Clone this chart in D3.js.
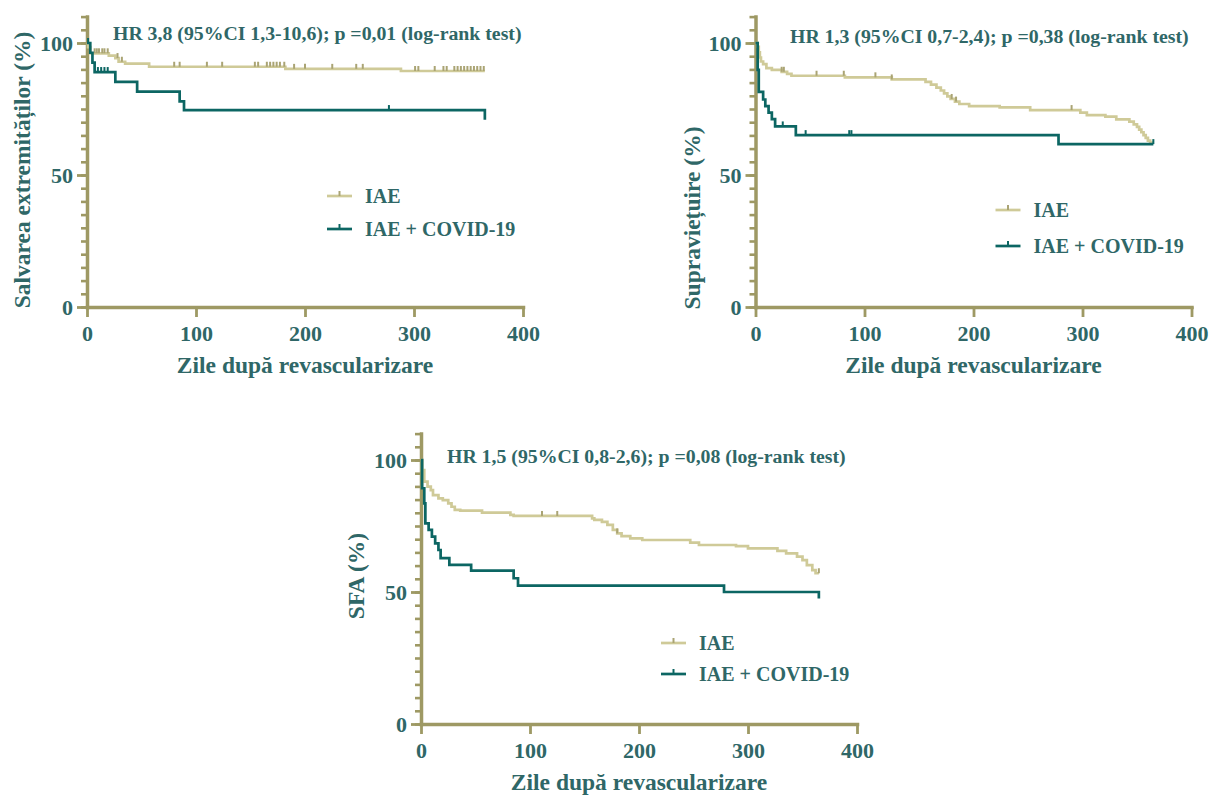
<!DOCTYPE html>
<html>
<head>
<meta charset="utf-8">
<script src="https://cdn.jsdelivr.net/npm/d3@7"></script>
<style>
  body { margin: 0; background: #fff; }
  svg { display: block; }
  text { font-family: "Liberation Serif", "Times New Roman", serif; font-weight: bold; fill: #2f6767; }
</style>
</head>
<body>
<svg id="chart" width="1210" height="796"></svg>
<script>
// ---------- data ----------
const xTickValues = [0, 100, 200, 300, 400];
const yMajorTicks = [0, 50, 100];
const seriesNames = ["IAE", "IAE + COVID-19"];

// Limb salvage
const limbIaeDays  = [0, 1, 3, 20, 26, 29, 35, 57, 182, 288, 365];
const limbIaePct   = [100, 98.4, 96.1, 95.2, 94.3, 92.9, 92.2, 91.0, 90.2, 89.4, 89.4];
const limbIaeCens  = [7, 9, 11, 14, 16, 19, 28, 32, 80, 85, 110, 124, 154, 157, 165, 168, 171, 174, 177, 181,
                      190, 200, 225, 247, 253, 301, 304, 319, 327, 330, 337, 340, 343, 346, 349, 352, 355, 358, 361, 364];
const limbCovDays  = [0, 3, 5, 7, 26, 46, 85, 89, 365];
const limbCovPct   = [100, 96.3, 92.6, 89.0, 85.3, 81.6, 77.9, 74.6, 70.9];
const limbCovCens  = [1, 10, 13, 16, 19, 277];

// Overall survival
const survIaeDays  = [0, 2, 3, 4, 5, 7, 10, 15, 24, 29, 33, 82, 125, 156, 161, 166, 170, 173, 176, 179, 183, 187,
                      196, 224, 252, 298, 304, 321, 331, 343, 347, 350, 352, 354, 356, 358, 360, 362, 365];
const survIaePct   = [100, 98.5, 96.5, 94.5, 93.0, 92.0, 90.5, 89.8, 89.1, 88.3, 87.6, 87.0, 86.2, 85.3, 84.2, 83.1,
                      82.0, 80.9, 79.8, 78.8, 77.8, 76.9, 76.1, 75.6, 74.6, 73.6, 72.7, 72.1, 71.1, 70.2, 69.2, 68.2,
                      67.2, 66.2, 65.1, 64.1, 63.0, 62.3, 62.3];
const survIaeCens  = [24, 26, 56, 81, 110, 125, 180, 184, 290];
const survCovDays  = [0, 2, 3, 7, 9, 12, 15, 18, 37, 278, 365];
const survCovPct   = [100, 89.8, 81.5, 78.6, 76.1, 73.6, 71.2, 68.4, 65.1, 61.7, 61.7];
const survCovCens  = [25, 46, 86, 88, 365];

// Amputation-free survival (SFA)
const sfaIaeDays   = [0, 1, 3, 6, 9, 11, 16, 20, 25, 28, 31, 36, 56, 82, 85, 157, 159, 166, 171, 176, 180, 184, 192,
                      203, 247, 255, 289, 300, 327, 335, 345, 350, 354, 359, 362, 365];
const sfaIaePct    = [100, 96.2, 91.8, 89.9, 88.6, 86.7, 85.5, 84.8, 83.6, 82.3, 81.1, 80.8, 80.1, 79.2, 78.8, 77.9,
                      77.3, 76.6, 75.4, 73.5, 72.2, 71.2, 70.3, 69.7, 68.7, 67.8, 67.4, 66.5, 65.6, 64.6, 63.4, 62.1,
                      60.2, 58.3, 57.1, 57.1];
const sfaIaeCens   = [111, 125, 180, 365];
const sfaCovDays   = [0, 1, 3, 4, 7, 10, 13, 16, 18, 26, 46, 85, 89, 278, 365];
const sfaCovPct    = [100, 89.3, 83.6, 76.0, 73.5, 71.0, 68.4, 65.9, 62.8, 60.3, 58.1, 55.2, 52.4, 50.0, 47.5];
const sfaCovCens   = [];

const statLines = [
  "HR 3,8 (95%CI 1,3-10,6); p =0,01 (log-rank test)",
  "HR 1,3 (95%CI 0,7-2,4); p =0,38 (log-rank test)",
  "HR 1,5 (95%CI 0,8-2,6); p =0,08 (log-rank test)"
];
const yTitles = ["Salvarea extremităților (%)", "Supraviețuire (%)", "SFA (%)"];
const xTitle = "Zile după revascularizare";

// ---------- layout & style ----------
const COL_AXIS = "#9e9964";
const COL_IAE = "#cfca98";
const COL_IAE_MARK = "#aaa474";
const COL_COV = "#0c6663";

const panels = [
  { ox: 87,  oy: 307, statX: 113, statY: 39.5, yTitleX: 30,  yTitleY: 170, legY: [196, 229],
    series: [[limbIaeDays, limbIaePct, limbIaeCens], [limbCovDays, limbCovPct, limbCovCens]] },
  { ox: 755.5, oy: 307, statX: 790, statY: 43, yTitleX: 700, yTitleY: 218, legY: [210, 246],
    series: [[survIaeDays, survIaePct, survIaeCens], [survCovDays, survCovPct, survCovCens]] },
  { ox: 421, oy: 724, statX: 447, statY: 463, yTitleX: 364, yTitleY: 576, legY: [643, 674],
    series: [[sfaIaeDays, sfaIaePct, sfaIaeCens], [sfaCovDays, sfaCovPct, sfaCovCens]] }
];
const W = 436;           // x-axis length for 0..400 days
const PX_PER_PCT = 2.64;

const svg = d3.select("#chart");

panels.forEach((p, i) => {
  const x = d3.scaleLinear().domain([0, 400]).range([p.ox, p.ox + W]);
  const y = d3.scaleLinear().domain([0, 110]).range([p.oy, p.oy - 110 * PX_PER_PCT]);
  const g = svg.append("g");

  // y axis: minor ticks every 5
  const yMinor = g.append("g").attr("transform", `translate(${p.ox},0)`)
    .call(d3.axisLeft(y).tickValues(d3.range(0, 111, 5)).tickSize(6).tickFormat(""));
  yMinor.select(".domain").remove();
  yMinor.selectAll(".tick line").attr("stroke", COL_AXIS).attr("stroke-width", 2.6);

  // y axis: major ticks with labels
  const yMajor = g.append("g").attr("transform", `translate(${p.ox},0)`)
    .call(d3.axisLeft(y).tickValues(yMajorTicks).tickSize(10).tickSizeOuter(0).tickPadding(4));
  yMajor.select(".domain").attr("stroke", COL_AXIS).attr("stroke-width", 3.5).attr("stroke-linecap", "square");
  yMajor.selectAll(".tick line").attr("stroke", COL_AXIS).attr("stroke-width", 2.8);
  yMajor.selectAll(".tick text").style("font-size", "22px").attr("fill", "#2f6767");

  // x axis
  const xAx = g.append("g").attr("transform", `translate(0,${p.oy})`)
    .call(d3.axisBottom(x).tickValues(xTickValues).tickSize(10).tickSizeOuter(0).tickPadding(8));
  xAx.select(".domain").attr("stroke", COL_AXIS).attr("stroke-width", 3.5).attr("stroke-linecap", "square");
  xAx.selectAll(".tick line").attr("stroke", COL_AXIS).attr("stroke-width", 2.8);
  xAx.selectAll(".tick text").style("font-size", "22px").attr("fill", "#2f6767");

  // axis titles
  g.append("text")
    .attr("transform", `translate(${p.yTitleX},${p.yTitleY}) rotate(-90)`)
    .attr("text-anchor", "middle").style("font-size", "23.5px").text(yTitles[i]);
  g.append("text")
    .attr("x", p.ox + W / 2).attr("y", p.oy + 66)
    .attr("text-anchor", "middle").style("font-size", "23.5px").text(xTitle);

  // statistics line
  g.append("text").attr("x", p.statX).attr("y", p.statY)
    .style("font-size", "19.8px").text(statLines[i]);

  // Kaplan-Meier step curves
  const line = d3.line().curve(d3.curveStepAfter).x(d => x(d[0])).y(d => y(d[1]));
  const colors = [COL_IAE, COL_COV];
  const markColors = [COL_IAE_MARK, COL_COV];
  p.series.forEach(([days, pct, cens], s) => {
    const pts = days.map((d, k) => [d, pct[k]]);
    g.append("path").datum(pts)
      .attr("fill", "none").attr("stroke", colors[s]).attr("stroke-width", 2.7)
      .attr("stroke-linejoin", "miter").attr("d", line);
    // censor marks: value of the step function at the censoring time
    const stepAt = t => { let v = pct[0]; for (let k = 0; k < days.length; k++) if (days[k] <= t) v = pct[k]; return v; };
    g.append("g").selectAll("line").data(cens).join("line")
      .attr("x1", d => x(d)).attr("x2", d => x(d))
      .attr("y1", d => y(stepAt(d))).attr("y2", d => y(stepAt(d)) - 5)
      .attr("stroke", markColors[s]).attr("stroke-width", 2);
  });

  // legend
  seriesNames.forEach((name, s) => {
    const ly = p.legY[s];
    g.append("line").attr("x1", p.ox + 240).attr("x2", p.ox + 265).attr("y1", ly).attr("y2", ly)
      .attr("stroke", colors[s]).attr("stroke-width", 2.7);
    g.append("line").attr("x1", p.ox + 252.5).attr("x2", p.ox + 252.5).attr("y1", ly).attr("y2", ly - 5)
      .attr("stroke", markColors[s]).attr("stroke-width", 2);
    g.append("text").attr("x", p.ox + 278).attr("y", ly + 7)
      .style("font-size", "20px").text(name);
  });
});
</script>
</body>
</html>
